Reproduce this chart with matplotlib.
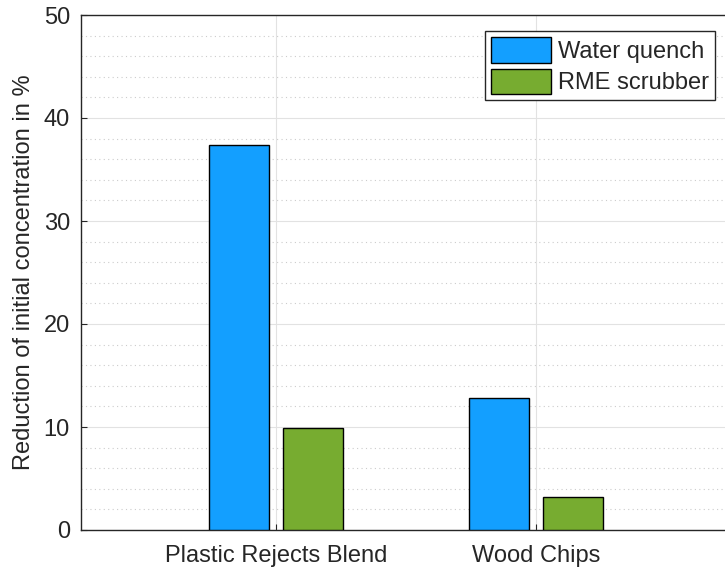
import matplotlib.pyplot as plt
import numpy as np

categories = ["Plastic Rejects Blend", "Wood Chips"]
series_names = ["Water quench", "RME scrubber"]
water_quench = [37.4, 12.8]
rme_scrubber = [9.9, 3.2]

colors = ["#139FFF", "#77AC30"]
text_color = "#262626"

plt.rcParams["font.family"] = ["Liberation Sans", "DejaVu Sans"]

fig = plt.figure(figsize=(7.25, 5.68), dpi=100)
# axes run slightly past the right edge, like the cropped original
ax = fig.add_axes([81 / 725, 38 / 568, 650 / 725, 515 / 568])

x = np.arange(1, len(categories) + 1)
width = 0.23
offset = 0.143
for i, (vals, name) in enumerate([(water_quench, series_names[0]), (rme_scrubber, series_names[1])]):
    ax.bar(x + (i * 2 - 1) * offset, vals, width, color=colors[i],
           edgecolor="black", linewidth=1.0, label=name, zorder=3)

ax.set_xlim(0.25, 2.75)
ax.set_ylim(0, 50)
ax.set_xticks(x)
ax.set_xticklabels(categories)
ax.set_yticks(np.arange(0, 51, 10))
ax.set_yticks(np.arange(0, 51, 2), minor=True)
ax.tick_params(axis="both", which="both", direction="in", colors=text_color,
               labelsize=17, length=4)
ax.tick_params(axis="y", which="minor", length=0)
ax.tick_params(axis="x", pad=11)
ax.tick_params(axis="y", pad=8)

ax.grid(True, which="major", color="#e2e2e2", linewidth=0.8, zorder=0)
ax.grid(True, which="minor", axis="y", color="#cccccc", linestyle=(0, (1, 3)),
        linewidth=0.8, zorder=0)

for side in ["left", "bottom", "top"]:
    ax.spines[side].set_color(text_color)
    ax.spines[side].set_linewidth(1.0)
ax.spines["right"].set_visible(False)

ax.set_ylabel("Reduction of initial concentration in %", fontsize=17,
              color=text_color, labelpad=6)

leg = ax.legend(loc="upper right", bbox_to_anchor=(0.975, 0.969), fontsize=17,
                handlelength=2.55, handleheight=1.3, handletextpad=0.3,
                borderpad=0.25, labelspacing=0.25, borderaxespad=0.0,
                fancybox=False, framealpha=1, edgecolor=text_color)
leg.get_frame().set_linewidth(1.0)
for t in leg.get_texts():
    t.set_color(text_color)

fig.savefig("out.png", dpi=100)
